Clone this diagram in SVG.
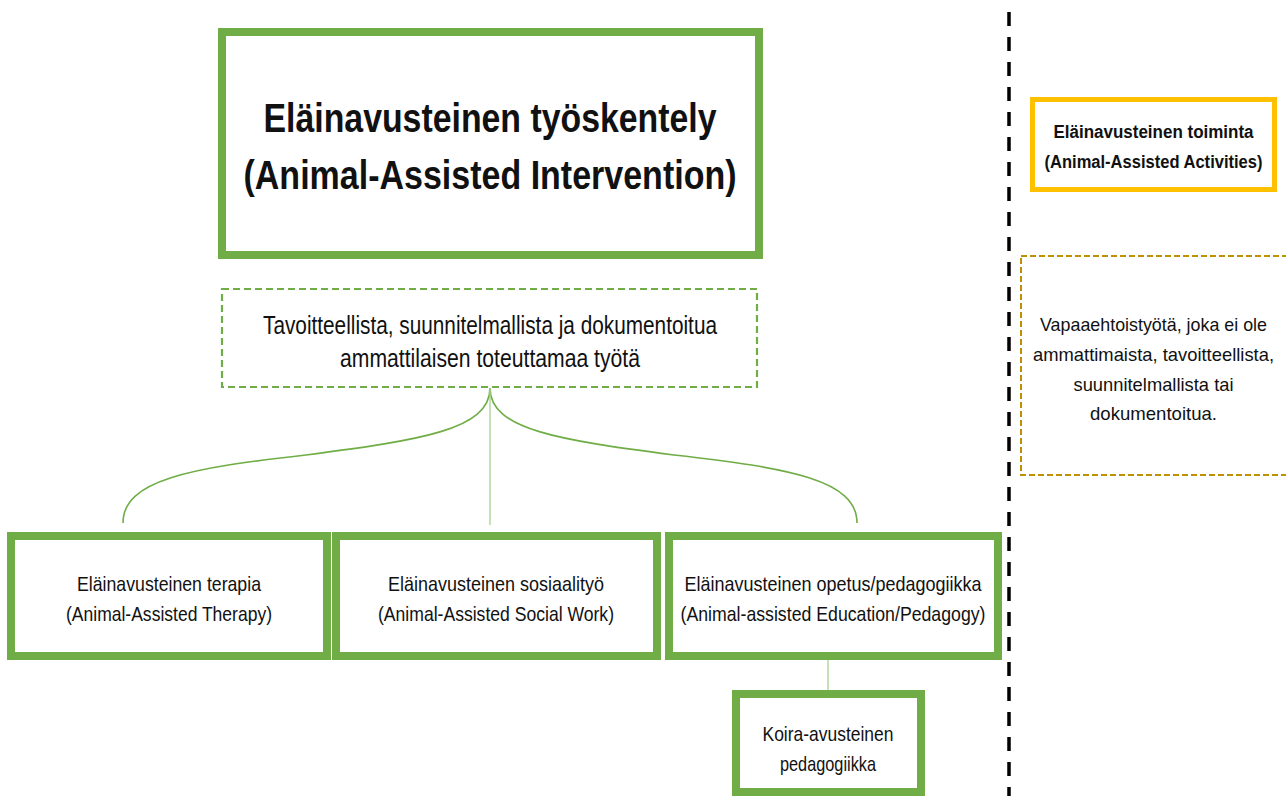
<svg xmlns="http://www.w3.org/2000/svg" width="1286" height="796" viewBox="0 0 1286 796">
<style>
.box{fill:#fff;stroke:#70AD47;stroke-width:8}
.dgreen{fill:#fff;stroke:#70AD47;stroke-width:2.2;stroke-dasharray:7 4}
.dgold{fill:#fff;stroke:#BF9000;stroke-width:2;stroke-dasharray:6 3}
.ybox{fill:#fff;stroke:#FFC000;stroke-width:5}
.t{font-family:"Liberation Sans",Arial,sans-serif;fill:#111;text-anchor:middle}
.b{font-weight:bold}
.conn{fill:none;stroke:#70AD47;stroke-width:1.6}
.thin{fill:none;stroke:#A9D18E;stroke-width:1.3}
</style>
<rect width="1286" height="796" fill="#fff"/>
<g id="connectors">
<path class="conn" d="M490,388 C490,430 420,440 306,455 C190,468 123,480 123,523"/>
<path class="conn" d="M490,388 C490,430 560,440 674,455 C790,468 857,480 857,523"/>
<line class="thin" x1="490" y1="388" x2="490" y2="525"/>
<line class="thin" x1="828" y1="660" x2="828" y2="690"/>
<line x1="1009" y1="12" x2="1009" y2="796" stroke="#000" stroke-width="3.5" stroke-dasharray="14 11"/>
</g>
<g id="main">
<rect class="box" x="222" y="32" width="537" height="223"/>
<text class="t b" x="490" y="132" font-size="40" textLength="453" lengthAdjust="spacingAndGlyphs">Eläinavusteinen työskentely</text>
<text class="t b" x="490" y="189" font-size="40" textLength="493" lengthAdjust="spacingAndGlyphs">(Animal-Assisted Intervention)</text>
</g>
<g id="goal">
<rect class="dgreen" x="222" y="289" width="535" height="98"/>
<text class="t" x="490" y="334" font-size="25" textLength="454" lengthAdjust="spacingAndGlyphs">Tavoitteellista, suunnitelmallista ja dokumentoitua</text>
<text class="t" x="490" y="367" font-size="25" textLength="300" lengthAdjust="spacingAndGlyphs">ammattilaisen toteuttamaa työtä</text>
</g>
<g id="therapy">
<rect class="box" x="11" y="536" width="316" height="120"/>
<text class="t" x="169" y="591" font-size="21" textLength="184" lengthAdjust="spacingAndGlyphs">Eläinavusteinen terapia</text>
<text class="t" x="169" y="621" font-size="21" textLength="206" lengthAdjust="spacingAndGlyphs">(Animal-Assisted Therapy)</text>
</g>
<g id="social">
<rect class="box" x="336" y="536" width="321" height="120"/>
<text class="t" x="496" y="591" font-size="21" textLength="216" lengthAdjust="spacingAndGlyphs">Eläinavusteinen sosiaalityö</text>
<text class="t" x="496" y="621" font-size="21" textLength="236" lengthAdjust="spacingAndGlyphs">(Animal-Assisted Social Work)</text>
</g>
<g id="education">
<rect class="box" x="669" y="536" width="329" height="120"/>
<text class="t" x="833" y="591" font-size="21" textLength="297" lengthAdjust="spacingAndGlyphs">Eläinavusteinen opetus/pedagogiikka</text>
<text class="t" x="833" y="621" font-size="21" textLength="305" lengthAdjust="spacingAndGlyphs">(Animal-assisted Education/Pedagogy)</text>
</g>
<g id="dog">
<rect class="box" x="736" y="694" width="185" height="98"/>
<text class="t" x="828" y="741" font-size="21" textLength="131" lengthAdjust="spacingAndGlyphs">Koira-avusteinen</text>
<text class="t" x="828" y="771" font-size="21" textLength="96" lengthAdjust="spacingAndGlyphs">pedagogiikka</text>
</g>
<g id="activities">
<rect class="ybox" x="1032.5" y="99.5" width="242" height="90"/>
<text class="t b" x="1153.5" y="138" font-size="18" textLength="200" lengthAdjust="spacingAndGlyphs">Eläinavusteinen toiminta</text>
<text class="t b" x="1153.5" y="168" font-size="18" textLength="218" lengthAdjust="spacingAndGlyphs">(Animal-Assisted Activities)</text>
</g>
<g id="volunteer">
<rect class="dgold" x="1021" y="256" width="280" height="219"/>
<text class="t" x="1153.5" y="331" font-size="19" textLength="227" lengthAdjust="spacingAndGlyphs">Vapaaehtoistyötä, joka ei ole</text>
<text class="t" x="1153.5" y="361" font-size="19" textLength="241" lengthAdjust="spacingAndGlyphs">ammattimaista, tavoitteellista,</text>
<text class="t" x="1153.5" y="391" font-size="19" textLength="160" lengthAdjust="spacingAndGlyphs">suunnitelmallista tai</text>
<text class="t" x="1153.5" y="420" font-size="19" textLength="127" lengthAdjust="spacingAndGlyphs">dokumentoitua.</text>
</g>
</svg>
